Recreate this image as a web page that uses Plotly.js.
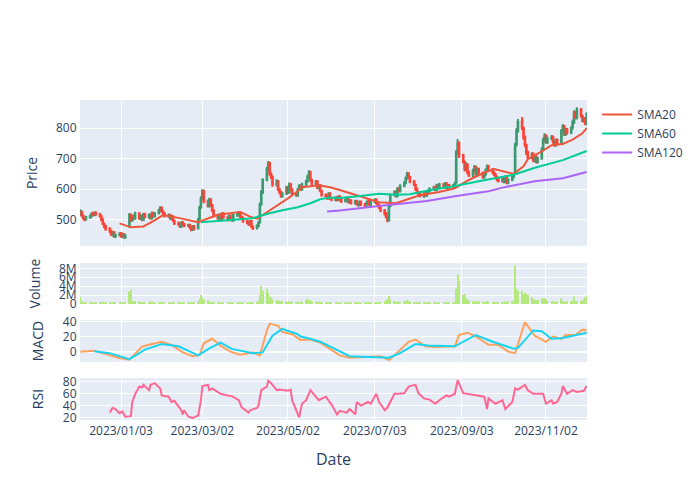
<!DOCTYPE html>
<html><head><meta charset="utf-8">
<script src="https://cdn.plot.ly/plotly-3.0.1.min.js"></script>
<style>html,body{margin:0;padding:0;background:#fff}#chart{width:700px;height:500px}</style>
</head><body><div id="chart"></div>
<script>
// Daily OHLC (trading days starting 2022-12-05)
const open = [515,526,514,506,501,507,511,521,515,523,519,511,501,487,479,471,463,451,459,445,
451,456,444,453,441,478,516,497,511,504,521,504,513,499,519,509,516,504,523,511,
521,529,539,527,521,511,516,504,511,497,489,484,477,491,485,481,483,474,467,479,
471,502,541,571,594,561,544,566,547,531,511,504,516,499,521,507,499,513,504,497,
514,519,523,509,506,496,491,484,496,477,473,479,491,551,589,631,664,686,649,641,
614,626,599,591,577,586,606,589,616,599,586,579,599,611,599,614,626,639,656,629,
617,626,604,613,594,581,577,569,586,571,564,573,564,576,567,561,566,571,557,563,
554,561,551,547,559,551,544,556,563,549,559,566,554,547,541,531,521,511,497,546,
581,591,577,601,594,611,621,636,651,639,626,614,601,589,586,577,586,579,591,594,
601,606,597,613,604,616,607,619,604,613,607,611,622,719,752,711,689,664,681,654,
644,661,673,649,666,654,639,649,661,676,664,654,649,639,633,627,636,624,641,621,
631,641,652,746,791,822,799,771,744,721,704,716,694,706,689,701,731,759,776,754,
766,771,754,744,761,753,789,806,779,796,786,801,819,851,834,861,839,824,831,814];
const close = [528,515,505,500,508,512,520,516,522,518,512,500,488,478,470,462,452,458,446,450,
455,445,452,442,448,515,498,510,505,520,505,512,500,518,510,515,505,522,512,520,
530,538,528,520,512,515,505,510,498,488,485,478,490,486,480,482,475,468,478,470,
500,540,570,595,560,545,565,548,530,512,505,515,500,520,508,500,512,505,498,515,
518,522,510,505,495,490,485,495,478,472,480,490,550,590,630,665,685,650,640,615,
625,600,590,578,585,605,590,615,600,585,580,598,610,600,615,625,640,655,630,618,
625,605,612,595,580,578,570,585,572,565,572,565,575,568,560,565,570,558,562,555,
560,552,548,558,550,545,555,562,550,558,565,555,548,540,530,520,510,498,545,580,
590,578,600,595,610,620,635,650,640,625,615,600,590,585,578,585,580,590,595,600,
605,598,612,605,615,608,618,605,612,608,612,618,720,750,710,690,665,680,655,645,
660,672,650,665,655,640,648,662,675,665,655,648,640,632,628,635,625,640,622,630,
640,648,745,790,820,800,770,745,720,705,715,695,705,690,700,730,760,775,755,765,
770,755,745,760,752,790,805,780,795,785,800,820,850,835,860,840,825,830,815,845];
const high = [534,530,518,510,513,517,524,526,527,528,522,514,505,490,483,475,467,462,463,455,
459,460,457,456,452,522,520,515,516,526,524,517,516,522,523,520,519,527,526,525,
536,545,543,531,524,520,519,515,514,500,494,488,495,496,489,487,487,478,482,483,
506,546,577,600,598,566,572,570,551,534,516,520,519,524,525,511,517,517,508,520,
523,528,527,514,509,500,495,499,499,481,485,495,556,597,636,673,692,690,655,645,
632,630,604,595,591,611,610,622,620,603,590,604,616,615,621,631,647,662,660,634,
630,630,617,617,598,586,581,590,590,575,577,577,580,580,571,570,575,574,567,567,
565,565,555,563,563,555,560,567,567,563,570,570,558,551,545,535,525,514,551,586,
596,595,606,606,616,626,641,657,655,643,630,618,605,594,590,590,590,595,600,606,
611,610,618,617,621,620,623,623,617,618,617,624,728,764,756,716,694,688,685,660,
667,679,677,671,670,658,654,668,681,680,669,659,653,644,638,641,640,646,645,636,
646,654,752,800,830,836,804,776,749,726,721,720,712,710,706,737,768,783,780,772,
777,776,759,766,766,797,813,810,801,800,806,827,858,856,868,866,844,836,835,852];
const low = [511,510,500,495,497,503,507,511,511,513,507,495,483,472,464,456,447,446,441,440,
446,441,440,438,439,474,493,493,500,500,500,499,495,496,505,504,500,501,507,507,
517,525,523,515,507,506,500,499,493,483,480,473,474,481,475,476,470,462,463,465,
468,498,536,565,554,540,540,543,525,507,500,500,495,495,503,495,495,500,493,493,
509,514,505,500,490,485,480,479,473,466,468,475,488,546,584,626,658,644,633,608,
609,594,584,572,572,581,585,585,595,579,575,575,594,595,595,609,621,634,624,612,
612,600,599,590,575,573,565,565,567,560,560,560,560,563,555,556,561,553,552,550,
549,547,543,543,545,540,540,551,545,545,554,550,543,535,524,514,504,492,494,541,
576,573,573,590,589,606,616,631,634,619,610,595,585,580,573,572,575,574,586,589,
596,593,592,600,599,603,602,600,599,603,602,606,618,714,702,684,658,659,649,640,
639,656,644,644,649,634,634,644,656,659,649,643,634,626,622,622,619,619,616,616,
626,636,648,740,785,793,762,737,712,698,698,688,688,684,684,696,726,753,749,748,
760,749,739,739,746,748,783,774,774,779,780,796,813,829,828,834,819,818,809,809];
const volume = [1.6e6,0.6e6,0.4e6,0.4e6,0.3e6,0.3e6,0.4e6,0.3e6,0.3e6,0.3e6,0.4e6,0.3e6,0.5e6,0.3e6,0.4e6,0.3e6,0.3e6,0.4e6,0.3e6,0.3e6,
0.3e6,0.4e6,0.3e6,0.3e6,0.3e6,2.8e6,3.2e6,0.7e6,0.7e6,0.6e6,0.6e6,0.4e6,0.4e6,0.3e6,0.3e6,0.4e6,0.6e6,0.5e6,0.3e6,0.3e6,
0.4e6,0.3e6,0.3e6,0.3e6,0.3e6,0.3e6,0.3e6,0.3e6,0.3e6,0.3e6,0.3e6,0.3e6,0.3e6,0.3e6,0.3e6,0.3e6,0.3e6,0.3e6,0.3e6,0.4e6,
0.6e6,1.2e6,2.0e6,1.5e6,1.0e6,0.8e6,0.6e6,0.5e6,0.4e6,0.4e6,0.3e6,0.3e6,0.4e6,0.3e6,0.3e6,0.3e6,0.3e6,0.3e6,0.3e6,0.3e6,
0.3e6,0.3e6,0.3e6,0.3e6,0.3e6,0.3e6,0.3e6,0.3e6,0.3e6,0.4e6,0.5e6,0.6e6,2.0e6,4.1e6,3.0e6,3.4e6,2.5e6,1.6e6,1.4e6,1.1e6,
0.9e6,0.8e6,0.7e6,0.6e6,0.6e6,0.5e6,0.5e6,0.6e6,0.5e6,0.4e6,0.4e6,0.5e6,0.5e6,0.4e6,0.5e6,0.7e6,1.2e6,0.9e6,0.9e6,0.6e6,
0.5e6,0.5e6,0.4e6,0.6e6,0.4e6,0.4e6,0.3e6,0.3e6,0.3e6,0.3e6,0.3e6,0.4e6,0.3e6,0.3e6,0.3e6,0.3e6,0.3e6,0.3e6,0.3e6,0.3e6,
0.3e6,0.3e6,0.3e6,0.3e6,0.3e6,0.3e6,0.3e6,0.4e6,0.3e6,0.3e6,0.3e6,0.3e6,0.3e6,0.4e6,0.5e6,0.6e6,0.7e6,1.0e6,1.8e6,1.0e6,
0.7e6,0.5e6,0.5e6,0.5e6,0.4e6,0.6e6,0.6e6,0.9e6,0.7e6,0.5e6,0.4e6,0.4e6,0.4e6,0.3e6,0.3e6,0.3e6,0.3e6,0.3e6,0.3e6,0.3e6,
0.3e6,0.3e6,0.4e6,0.3e6,0.4e6,0.3e6,0.4e6,0.3e6,0.3e6,0.4e6,0.4e6,0.5e6,3.5e6,6.7e6,5.1e6,2.0e6,2.2e6,1.3e6,1.1e6,0.8e6,
0.7e6,0.6e6,0.6e6,0.5e6,0.6e6,0.5e6,0.4e6,0.5e6,0.6e6,0.5e6,0.4e6,0.5e6,0.4e6,0.4e6,0.4e6,0.5e6,0.4e6,0.6e6,0.4e6,0.7e6,
0.6e6,0.8e6,8.7e6,3.5e6,3.0e6,3.0e6,2.0e6,2.4e6,2.4e6,2.0e6,1.5e6,1.1e6,0.9e6,0.9e6,0.9e6,1.2e6,1.3e6,1.3e6,1.0e6,0.7e6,
0.6e6,0.6e6,0.6e6,0.5e6,0.5e6,1.3e6,0.6e6,0.5e6,0.5e6,0.6e6,0.6e6,0.8e6,1.7e6,0.7e6,0.6e6,0.7e6,0.8e6,1.1e6,1.5e6,1.9e6];

// Indicator lines: trading-day index -> value
const sma20Idx = [20,26,33,38,43,50,60,70,82,87,90,94,101,106,111,114,122,128,133,138,145,153,161,169,174,183,191,199,205,211,217,221,226,229,235,240,246,251,256,259];
const sma20Val = [488,475,478,495,515,506,492,516,525,510,503,515,548,570,593,606,613,606,597,587,570,557,554,568,580,590,603,630,652,666,656,650,675,698,724,744,748,762,783,800];
const sma60Idx = [62,69,77,89,92,97,104,111,118,123,128,133,142,153,161,169,177,191,204,221,232,246,259];
const sma60Val = [492,496,499,505,512,521,531,541,554,567,573,571,577,585,582,583,595,610,626,647,670,695,725];
const sma120Idx = [126,133,153,177,191,209,215,232,246,259];
const sma120Val = [527,530,545,561,577,593,605,626,636,656];
const macdIdx = [0,8,14,20,25,28,32,37,42,47,53,58,61,64,68,72,77,82,89,92,95,97,101,104,109,113,118,123,128,133,138,147,154,158,161,168,171,176,181,191,194,198,202,209,214,219,222,227,232,238,241,245,248,253,256,259];
const macdVal = [0,1.3,-3,-8.5,-10.7,-4.4,6.7,10,13,8.9,-0.9,-6,-4.4,11,17,8,0,-4,-1,-5,28,37,34,26,23,15.5,16,12,3,-5,-8,-7,-6,-11,-3,13,16,7,6,7,22,25,20,9,9,0,-2,39,21,13,20,17,22,22,29,28];
const signalIdx = [8,15,25,34,42,50,60,66,72,78,89,94,99,104,111,113,116,123,129,138,158,164,171,178,191,202,210,221,224,231,235,240,246,253,259];
const signalVal = [0.5,-2,-10,2.7,10,7,-5,4.4,12,3.6,-2,-1,21,30,23,20,18,13,6,-6,-8,-2,10,8,7,22,13,4,5,28,27,17,18,22,25];
const rsiIdx = [15,17,19,20,22,24,26,27,29,30,32,33,35,36,39,41,42,45,47,49,52,53,54,55,58,60,62,63,65,66,68,72,75,78,81,83,86,87,90,91,93,95,96,98,100,102,106,108,109,111,112,114,115,118,119,122,125,127,129,131,133,136,138,140,141,144,147,149,151,153,155,157,160,163,165,167,169,171,173,175,179,181,184,187,189,191,193,195,198,200,203,206,208,209,212,215,217,220,222,224,227,229,231,236,238,240,241,244,245,246,249,251,254,257,259];
const rsiVal = [28,36,34,27,30,21,22,46,59,72,71,75,66,75,78,69,57,55,46,48,32,25,32,21,19,23,49,73,75,66,69,60,57,56,49,37,28,32,36,40,66,72,82,78,66,67,65,67,49,28,20,43,49,66,63,49,55,48,42,25,31,28,34,25,46,40,46,43,60,46,32,37,60,60,61,69,73,75,61,52,50,43,49,57,55,60,83,61,60,59,57,55,34,52,43,49,34,46,69,67,75,66,60,60,43,49,43,46,60,73,60,66,63,65,73];

const tickVals = ['2023-01-03','2023-03-02','2023-05-02','2023-07-03','2023-09-03','2023-11-02'];

// trading-day calendar (weekdays)
const dates = [];
(function(){
  const d = new Date(Date.UTC(2022,11,5));
  while (dates.length < close.length) {
    const w = d.getUTCDay();
    if (w !== 0 && w !== 6) dates.push(d.toISOString().slice(0,10));
    d.setUTCDate(d.getUTCDate()+1);
  }
})();
const at = idx => idx.map(i => dates[i]);

const traces = [
  {type:'candlestick', x:dates, open:open, high:high, low:low, close:close, name:'Price', showlegend:false, xaxis:'x', yaxis:'y'},
  {type:'scatter', mode:'lines', name:'SMA20', x:at(sma20Idx), y:sma20Val, line:{color:'#EF553B', width:2}, xaxis:'x', yaxis:'y'},
  {type:'scatter', mode:'lines', name:'SMA60', x:at(sma60Idx), y:sma60Val, line:{color:'#00CC96', width:2}, xaxis:'x', yaxis:'y'},
  {type:'scatter', mode:'lines', name:'SMA120', x:at(sma120Idx), y:sma120Val, line:{color:'#AB63FA', width:2}, xaxis:'x', yaxis:'y'},
  {type:'bar', name:'Volume', x:dates, y:volume, marker:{color:'#B6E880'}, showlegend:false, xaxis:'x2', yaxis:'y2'},
  {type:'scatter', mode:'lines', name:'MACD', x:at(macdIdx), y:macdVal, line:{color:'#FFA15A', width:2}, showlegend:false, xaxis:'x3', yaxis:'y3'},
  {type:'scatter', mode:'lines', name:'Signal', x:at(signalIdx), y:signalVal, line:{color:'#19D3F3', width:2}, showlegend:false, xaxis:'x3', yaxis:'y3'},
  {type:'scatter', mode:'lines', name:'RSI', x:at(rsiIdx), y:rsiVal, line:{color:'#FF6692', width:2}, showlegend:false, xaxis:'x4', yaxis:'y4'}
];

const xRange = ['2022-12-04 18:00','2023-12-01 06:00'];
function xa(anchor, labels) {
  return {type:'date', anchor:anchor, range:xRange, tickmode:'array', tickvals:tickVals, tickformat:'%Y/%m/%d',
    showticklabels:labels, gridcolor:'white', linecolor:'white', zeroline:false, ticks:'', showgrid:true, automargin:true};
}
function ya(anchor, domain, title, extra) {
  return Object.assign({anchor:anchor, domain:domain, title:{text:title, font:{size:14}, standoff:15}, gridcolor:'white',
    linecolor:'white', zerolinecolor:'white', zerolinewidth:2, ticks:'', automargin:true}, extra||{});
}
const layout = {
  width:700, height:500,
  font:{family:'"Open Sans", verdana, arial, sans-serif', size:12, color:'#2a3f5f'},
  paper_bgcolor:'white', plot_bgcolor:'#E5ECF6',
  margin:{l:80, r:80, t:100, b:80},
  showlegend:true,
  legend:{x:1.02, y:1, xanchor:'left', yanchor:'top'},
  xaxis: Object.assign(xa('y', false), {rangeslider:{visible:false}}),
  xaxis2: xa('y2', false),
  xaxis3: xa('y3', false),
  xaxis4: Object.assign(xa('y4', true), {title:{text:'Date', font:{size:16}, standoff:15}}),
  yaxis: ya('x', [0.544,1], 'Price', {dtick:100}),
  yaxis2: ya('x2', [0.3625,0.49], 'Volume', {dtick:2e6}),
  yaxis3: ya('x3', [0.181,0.3125], 'MACD', {dtick:20}),
  yaxis4: ya('x4', [0,0.131], 'RSI', {dtick:20})
};
Plotly.newPlot('chart', traces, layout, {displayModeBar:false, responsive:false});
</script>
</body></html>
